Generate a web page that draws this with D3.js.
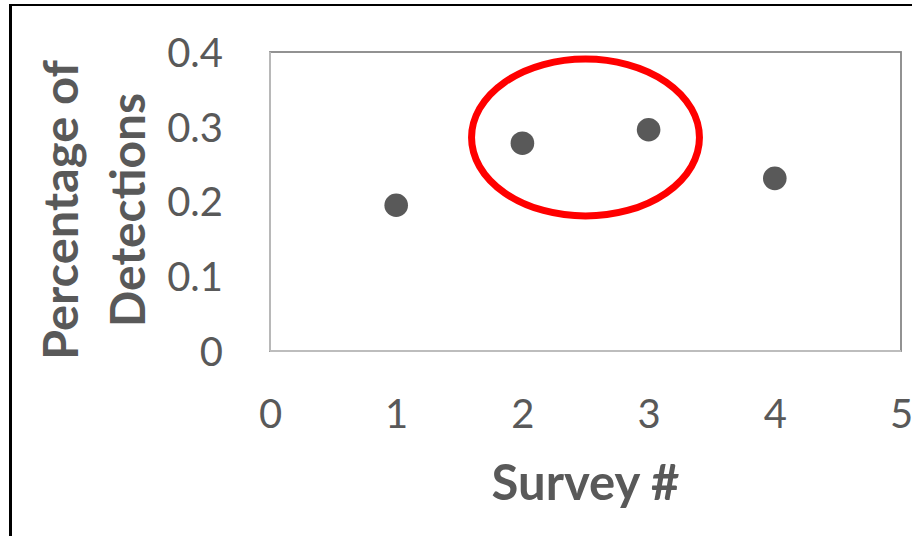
<!DOCTYPE html>
<html>
<head>
<meta charset="utf-8">
<script src="https://cdn.jsdelivr.net/npm/d3@7"></script>
<style>
  html, body { margin: 0; padding: 0; background: #fff; }
  svg { display: block; }
</style>
</head>
<body>
<svg id="chart" width="912" height="536"></svg>
<script>
// Survey results: share of detections per survey
const surveys = [1, 2, 3, 4];
const detectionShare = [0.195, 0.278, 0.296, 0.231];
const xTicks = [0, 1, 2, 3, 4, 5];
const yTicks = [0, 0.1, 0.2, 0.3, 0.4];
const yTickLabels = ["0", "0.1", "0.2", "0.3", "0.4"];
// Highlight ring around surveys 2 and 3 (data units)
const highlight = { cx: 2.5, cy: 0.2856, rx: 0.903, ry: 0.105 };

const W = 912, H = 536;
const plot = { left: 270, right: 901, top: 52, bottom: 351 };
const textColor = "#595959";
const font = "Lato, 'Open Sans', sans-serif";

const svg = d3.select("#chart");

const x = d3.scaleLinear().domain([0, 5]).range([plot.left, plot.right]);
const y = d3.scaleLinear().domain([0, 0.4]).range([plot.bottom, plot.top]);

// Outer chart frame (continues past the right and bottom edges)
svg.append("line").attr("x1", 10.5).attr("x2", 10.5).attr("y1", 4).attr("y2", H + 5)
  .attr("stroke", "#000").attr("stroke-width", 3);
svg.append("line").attr("x1", 9).attr("x2", W + 5).attr("y1", 5).attr("y2", 5)
  .attr("stroke", "#000").attr("stroke-width", 2);

// Plot area border
svg.append("rect")
  .attr("x", plot.left).attr("y", plot.top)
  .attr("width", plot.right - plot.left).attr("height", plot.bottom - plot.top)
  .attr("fill", "none").attr("stroke", "#878787").attr("stroke-width", 1.8);

// Axis lines (left and bottom) in lighter grey
svg.append("line").attr("x1", plot.left).attr("x2", plot.left)
  .attr("y1", plot.top).attr("y2", plot.bottom)
  .attr("stroke", "#bdbdbd").attr("stroke-width", 1.8);
svg.append("line").attr("x1", plot.left).attr("x2", plot.right)
  .attr("y1", plot.bottom).attr("y2", plot.bottom)
  .attr("stroke", "#bdbdbd").attr("stroke-width", 1.8);

// Y axis tick labels
const yAxis = svg.append("g")
  .attr("transform", `translate(${plot.left},0)`)
  .call(d3.axisLeft(y).tickValues(yTicks)
    .tickFormat((d, i) => yTickLabels[i]).tickSize(0).tickPadding(47));
yAxis.select(".domain").remove();
yAxis.selectAll("text")
  .attr("fill", textColor).attr("font-family", font).attr("font-size", 40)
  .attr("dy", "0.36em");

// X axis tick labels
const xAxis = svg.append("g")
  .attr("transform", `translate(0,${plot.bottom})`)
  .call(d3.axisBottom(x).tickValues(xTicks).tickFormat(d3.format("d"))
    .tickSize(0).tickPadding(48.6));
xAxis.select(".domain").remove();
xAxis.selectAll("text")
  .attr("fill", textColor).attr("font-family", font).attr("font-size", 40);

// Data points
svg.append("g").selectAll("circle")
  .data(surveys)
  .join("circle")
  .attr("cx", d => x(d))
  .attr("cy", (d, i) => y(detectionShare[i]))
  .attr("r", 11.8)
  .attr("fill", textColor);

// Highlight ellipse
svg.append("ellipse")
  .attr("cx", x(highlight.cx))
  .attr("cy", y(highlight.cy))
  .attr("rx", x(highlight.rx) - x(0))
  .attr("ry", y(0) - y(highlight.ry))
  .attr("fill", "none")
  .attr("stroke", "#ff0000")
  .attr("stroke-width", 7);

// X axis title
svg.append("text")
  .attr("x", x(2.5)).attr("y", 500)
  .attr("text-anchor", "middle")
  .attr("font-family", font).attr("font-weight", "bold").attr("font-size", 49)
  .attr("fill", textColor)
  .text("Survey #");

// Y axis title (two lines)
const yTitle = [
  { text: "Percentage of", base: 78, len: 300 },
  { text: "Detections", base: 145, len: 234 }
];
svg.append("g").selectAll("text")
  .data(yTitle)
  .join("text")
  .attr("transform", d => `translate(${d.base},210) rotate(-90)`)
  .attr("text-anchor", "middle")
  .attr("font-family", font).attr("font-weight", "bold").attr("font-size", 47)
  .attr("fill", textColor)
  .attr("textLength", d => d.len)
  .attr("lengthAdjust", "spacingAndGlyphs")
  .text(d => d.text);
</script>
</body>
</html>
